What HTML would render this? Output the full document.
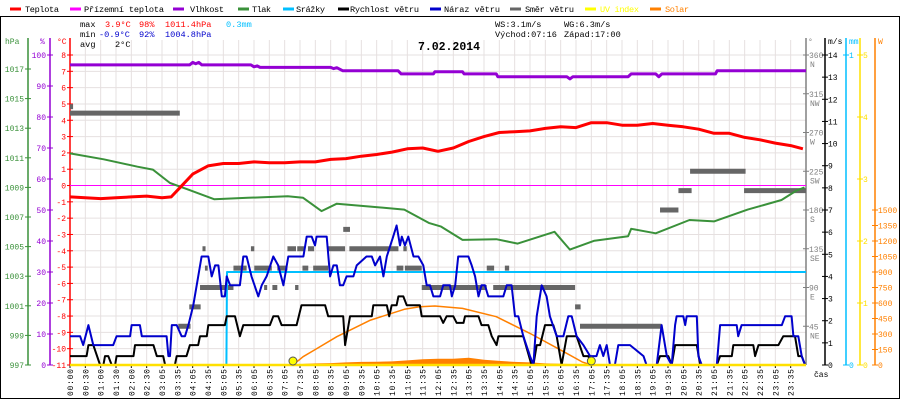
<!DOCTYPE html>
<html><head><meta charset="utf-8"><style>
html,body{margin:0;padding:0;background:#fff}
svg{display:block;font-family:"Liberation Mono",monospace}
</style></head><body>
<svg id="chart" width="900" height="400" viewBox="0 0 900 400" xmlns="http://www.w3.org/2000/svg">
<rect x="0.5" y="16.5" width="899" height="382" fill="#fff" stroke="#000"/>
<g id="grid"></g>
<g id="legend" font-size="8.6"></g>
<g id="stats" font-size="8.6">
<text x="80" y="27" fill="#000">max</text>
<text x="105" y="27" fill="#f00">3.9°C</text>
<text x="139" y="27" fill="#f00">98%</text>
<text x="165" y="27" fill="#f00">1011.4hPa</text>
<text x="226" y="27" fill="#00bfff">0.3mm</text>
<text x="80" y="37" fill="#000">min</text>
<text x="99" y="37" fill="#00c">-0.9°C</text>
<text x="139" y="37" fill="#00c">92%</text>
<text x="165" y="37" fill="#00c">1004.8hPa</text>
<text x="80" y="47" fill="#000">avg</text>
<text x="115" y="47" fill="#000">2°C</text>
<text x="495" y="27" fill="#000">WS:3.1m/s</text>
<text x="564" y="27" fill="#000">WG:6.3m/s</text>
<text x="495" y="37" fill="#000">Východ:07:16</text>
<text x="564" y="37" fill="#000">Západ:17:00</text>
</g>
<text x="418" y="50" font-size="11.5" font-weight="bold" textLength="62">7.02.2014</text>
<g id="axes" font-size="8"></g>
<g id="series"></g>
</svg>
<script>
// ---- data ----
const tempT=[0,0.5,1,1.5,2,2.5,3,3.3,3.6,4,4.5,5,5.5,6,6.5,7,7.5,8,8.5,9,9.5,10,10.5,11,11.5,12,12.5,13,13.5,14,14.5,15,15.5,16,16.5,17,17.5,18,18.5,19,19.5,20,20.5,21,21.5,22,22.5,23,23.5,23.9];
const tempV=[-0.7,-0.75,-0.8,-0.75,-0.7,-0.65,-0.75,-0.7,-0.1,0.7,1.2,1.35,1.35,1.45,1.4,1.4,1.45,1.45,1.6,1.65,1.8,1.9,2.05,2.25,2.3,2.1,2.3,2.7,3.0,3.25,3.3,3.35,3.5,3.6,3.55,3.85,3.85,3.7,3.7,3.8,3.7,3.6,3.45,3.2,3.2,2.95,2.8,2.6,2.45,2.25];
const feelT=[0,24];
const feelV=[0,0];
const presT=[0,1.1,2.2,2.7,3.26,3.8,4.7,5.8,7.1,7.6,8.2,8.7,9.8,10.9,11.7,12.1,12.8,13.9,14.6,15.8,16.3,17.1,18.2,18.3,19.1,20.2,21,22.1,23.2,23.7,23.95];
const presV=[1011.3,1010.9,1010.4,1010.2,1009.3,1008.9,1008.2,1008.3,1008.4,1008.3,1007.4,1007.9,1007.7,1007.5,1006.6,1006.35,1005.45,1005.5,1005.2,1006.0,1004.8,1005.4,1005.7,1006.2,1005.9,1006.8,1006.7,1007.5,1008.15,1008.8,1009.0];
const humT=[0,3.9,4.0,4.1,4.2,4.3,4.5,5.9,6.0,6.1,6.2,8.5,8.6,8.7,8.9,10.7,10.8,11.85,11.9,12.8,12.85,13.9,13.95,16.2,16.3,16.4,18.2,18.3,19.1,19.2,19.3,21.05,21.1,24];
const humV=[96.8,96.8,97.6,97.2,97.6,96.8,96.8,96.8,96.2,96.5,96.0,96.0,95.6,95.9,94.9,94.9,93.9,93.9,94.6,94.6,93.9,93.9,93.0,93.0,92.3,93.0,93.0,93.9,93.9,93.0,93.9,93.9,94.9,94.9];
const rainT=[0,5.1,5.12,24];
const rainV=[0,0,0.3,0.3];
const windT=[0,0.54,0.6,0.76,0.98,1.09,1.14,1.25,1.36,1.47,1.52,2.07,2.12,2.72,2.83,3.04,3.1,3.42,3.48,3.8,3.91,4.18,4.24,4.46,4.51,5.05,5.11,5.38,5.54,5.65,6.52,6.63,6.79,6.9,7.39,7.55,8.32,8.42,8.91,8.97,9.13,9.84,9.89,10.33,10.41,10.49,10.65,10.71,10.87,10.98,11.41,11.47,12.07,12.17,12.28,12.5,12.61,12.83,12.88,13.32,13.42,13.64,13.75,13.91,13.97,14.78,15.05,15.11,15.22,15.33,15.49,15.76,15.87,16.03,16.2,16.52,16.74,16.9,17.01,19.13,19.24,19.51,19.62,19.73,20.44,20.55,21.09,21.2,21.58,21.63,22.28,22.34,22.45,23.1,23.26,23.64,23.75,23.86,23.97];
const windV=[0.4,0.4,0.9,0.9,0,0,0.4,0.4,0,0,0.4,0.4,0.9,0.9,0.4,0.4,0,0,0.4,0.4,0.9,0.9,1.3,1.3,1.8,1.8,2.2,2.2,1.3,1.8,1.8,2.2,2.2,1.8,1.8,2.7,2.7,2.2,2.2,0.9,2.2,2.2,2.7,2.7,2.2,2.7,2.7,3.1,3.1,2.7,2.7,2.2,2.2,1.9,2.2,2.2,1.9,1.9,2.2,2.2,1.8,1.8,1.3,0.9,1.3,1.3,0,0,0.9,0.9,1.8,1.8,1.3,0,1.3,1.3,0.4,0.4,0,0,0.4,0.4,0,0.9,0.9,0,0,0.4,0.4,0.9,0.9,0.4,0.9,0.9,1.3,1.3,0.4,0.4,0];
const gustT=[0,0.33,0.43,0.6,0.76,1.41,1.52,1.96,2.01,2.28,2.34,3.15,3.21,3.26,3.32,3.48,3.64,3.75,3.86,4.02,4.13,4.29,4.51,4.62,4.73,4.84,4.95,5.05,5.11,5.22,5.54,5.65,5.76,5.92,6.14,6.25,6.41,6.63,6.79,6.96,7.12,7.61,7.72,7.88,7.99,8.04,8.37,8.48,8.59,8.7,8.8,8.91,9.02,9.24,9.35,9.67,9.84,9.95,10.11,10.22,10.33,10.54,10.65,10.76,10.82,10.92,11.03,11.2,11.36,11.52,11.63,11.74,11.85,12.07,12.17,12.39,12.45,12.56,12.66,12.99,13.1,13.21,13.32,13.42,13.53,13.64,14.13,14.24,14.4,14.51,14.62,14.78,15.0,15.11,15.22,15.38,15.54,15.65,15.87,16.09,16.25,16.36,16.52,16.74,16.96,17.17,17.28,17.39,17.5,17.61,17.77,17.88,18.26,18.7,18.8,19.13,19.29,19.46,19.62,19.73,19.78,20.0,20.06,20.11,20.44,20.49,20.6,21.09,21.2,21.74,21.79,21.9,23.21,23.32,23.53,23.59,23.75,23.86,23.97];
const gustV=[1.3,1.3,0.9,1.8,0.9,0.9,1.3,1.3,1.8,1.8,1.3,1.3,0.4,0.4,1.8,1.8,1.3,1.3,1.8,2.7,3.6,4.9,4.9,4.0,4.5,4.5,3.1,3.1,4.0,3.6,3.6,4.9,4.9,4.0,3.1,3.6,4.0,4.9,4.5,3.6,4.9,4.9,5.8,5.8,5.4,5.8,5.8,4.0,4.5,4.5,3.6,3.6,4.0,4.0,4.5,4.9,4.9,4.5,4.9,4.0,4.9,5.8,6.3,5.4,5.8,5.4,5.8,4.9,4.9,4.5,3.6,3.6,3.1,3.1,3.6,3.6,3.1,3.6,4.9,4.9,4.5,4.0,3.1,3.6,3.6,3.1,3.1,3.6,3.6,2.2,2.2,1.3,0.4,0,2.2,3.6,3.1,2.2,1.3,1.3,2.2,2.2,1.3,0.9,0.4,0.4,0.9,0.4,0.9,0,0,0.9,0.9,0.4,0,0,1.8,0.4,0,1.8,2.2,2.2,1.8,2.2,2.2,0.4,0,0,1.8,1.8,1.3,1.8,1.8,2.2,2.2,1.3,1.3,0.4,0];
const dirStart=[0,0,3.53,3.89,4.24,4.32,4.4,5.33,5.9,6.01,6.33,6.6,6.76,7.09,7.34,7.41,7.58,7.76,7.93,8.42,8.91,9.11,10.65,10.87,10.92,11.47,11.74,13.59,13.8,14.18,16.47,16.63,19.24,19.84,20.22,21.98];
const dirEnd=[3.58,0.1,3.93,4.26,5.33,4.42,4.49,5.76,6.01,6.58,6.43,6.76,7.09,7.37,7.45,7.63,7.77,7.96,8.42,8.97,9.13,10.71,10.87,10.98,11.47,12.07,13.59,13.83,16.47,14.32,16.65,19.29,19.84,20.27,22.03,24.0];
const dirDeg=[292.5,300,45,67.5,90,135,112.5,112.5,135,112.5,90,90,112.5,135,90,135,112.5,135,112.5,135,157.5,135,112.5,135,112.5,90,90,112.5,90,112.5,67.5,45,180,202.5,225,202.5];
const solMaxT=[7.27,7.6,8,8.7,9.8,10.9,11.4,11.9,12.8,13.9,15,16.1,16.7,17];
const solMaxV=[0,80,150,274,435,539,564,571,548,467,306,129,30,0];
const solT=[7.3,7.7,8,8.5,9,9.5,10,10.5,11,11.5,12,12.5,13,13.5,14,14.5,15,15.5,16,16.5,16.9];
const solV=[5,12,15,18,25,30,32,35,45,55,60,60,70,50,40,30,25,15,12,8,3];
const uvT=[0,24];
const uvV=[0,0];
const sunEvents=[7.27,17.0];
const timeLabels=["00:00","00:30","01:00","01:30","02:00","02:30","03:05","03:35","04:05","04:35","05:05","05:35","06:05","06:35","07:05","07:35","08:05","08:35","09:05","09:35","10:05","10:35","11:05","11:35","12:05","12:35","13:05","13:35","14:05","14:35","15:05","15:35","16:05","16:35","17:05","17:35","18:05","18:35","19:05","19:35","20:05","20:35","21:05","21:35","22:05","22:35","23:05","23:35"];
const hpaTicks=[1017,1015,1013,1011,1009,1007,1005,1003,1001,999,997];
const humTicks=[100,90,80,70,60,50,40,30,20,10,0];
const tempTicks=[8,7,6,5,4,3,2,1,0,-1,-2,-3,-4,-5,-6,-7,-8,-9,-10,-11];
const dirTicks=[360,315,270,225,180,135,90,45];
const dirNames=["N","NW","W","SW","S","SE","E","NE"];
const msTicks=[14,13,12,11,10,9,8,7,6,5,4,3,2,1,0];
const mmTicks=[1,0];
const uvTicks=[5,4,3,2,1,0];
const wTicks=[1500,1350,1200,1050,900,750,600,450,300,150,0];

// ---- scales ----
const X0=70,X1=806,YT=55,YB=365;
const xT=t=>X0+t*(X1-X0)/24;
const yC=c=>YT+(8-c)*(YB-YT)/19;
const yP=p=>YB-(p-997)*14.8;
const yH=h=>YB-h*(YB-YT)/100;
const yWs=v=>YB-v*(YB-YT)/14;
const yD=d=>YB-d*(YB-YT)/360;
const yMM=m=>YB-m*(YB-YT);
const yUV=u=>YB-u*(YB-YT)/5;
const ySol=w=>YB-w*155/1500;

const NS="http://www.w3.org/2000/svg";
function mk(tag,attrs,parent){const e=document.createElementNS(NS,tag);for(const k in attrs)e.setAttribute(k,attrs[k]);parent.appendChild(e);return e;}
const grid=document.getElementById('grid'),axes=document.getElementById('axes'),series=document.getElementById('series'),legend=document.getElementById('legend');

// grid
tempTicks.forEach(c=>{const l=mk('line',{x1:X0,x2:X1,y1:yC(c),y2:yC(c),stroke:'#e6e0e0'},grid);

});
timeLabels.forEach((s,i)=>{const x=X0+i*(X1-X0)/48;
const l=mk('line',{x1:x,x2:x,y1:40,y2:YB,stroke:'#e6e0e0'},grid);


const tk=mk('line',{x1:x,x2:x,y1:YB,y2:YB+3,stroke:'#000'},axes);


const tx=mk('text',{x:0,y:0,transform:`translate(${x+3},396) rotate(-90)`,'font-size':'8',fill:'#000',textLength:'27'},axes);
tx.textContent=s;

});

// legend
const legItems=[[10,25,34,'#f00','Teplota'],[70,84,80,'#f0f','Přízemní teplota'],[173,190,34,'#9400d3','Vlhkost'],[238,252,19,'#3a913a','Tlak'],[283,296,29,'#00bfff','Srážky'],[338,350,69,'#000','Rychlost větru'],[430,444,56,'#00c','Náraz větru'],[510,525,49,'#666','Směr větru'],[585,600,39,'#ff0','UV index'],[650,665,24,'#ff8000','Solar']];
legItems.forEach(it=>{const g=mk('g',{},legend);


mk('line',{x1:it[0],x2:it[0]+11,y1:9,y2:9,stroke:it[3],'stroke-width':3},g);
const t=mk('text',{x:it[1],y:12,fill:(it[3]=='#ff0'||it[3]=='#ff8000')?it[3]:'#000',textLength:it[2]},g);t.textContent=it[4];});

// axes
function axis(x,color,ticks,yf,name,labelSide,fmt){
 const a=mk('line',{x1:x,x2:x,y1:38,y2:YB,stroke:color,'stroke-width':1.5},axes);
 
 
 ticks.forEach((v,i)=>{const y=yf(v);
  mk('line',{x1:x-3,x2:x+3,y1:y,y2:y,stroke:color},axes);
  const t=mk('text',{x:labelSide<0?x-4:x+3,y:y+3,fill:color,'text-anchor':labelSide<0?'end':'start'},axes);
  t.textContent=fmt?fmt(v,i):v;
  
  });
}
axis(28,'#3a913a',hpaTicks,yP,'pressure',-1);
axis(50,'#9400d3',humTicks,yH,'humidity',-1);
axis(70,'#f00',tempTicks,yC,'temperature',-1);
axis(806,'#808080',dirTicks,yD,'direction',1);
dirTicks.forEach((d,i)=>{const t=mk('text',{x:810,y:yD(d)+12,fill:'#808080'},axes);t.textContent=dirNames[i];

});
axis(825,'#000',msTicks,yWs,'wind-speed',1);
axis(846,'#00bfff',mmTicks,yMM,'rain',1);
axis(860,'#ffe000',uvTicks,yUV,'uv',1);
axis(875,'#ff8000',wTicks,ySol,'solar',1);
[[5,44,'hPa','#3a913a'],[40,44,'%','#9400d3'],[57,44,'°C','#f00'],[808,44,'°','#808080'],[828,44,'m/s','#000'],[849,44,'mm','#00bfff'],[878,44,'W','#ff8000'],[814,377,'čas','#000']].forEach(h=>{
 const t=mk('text',{x:h[0],y:h[1],fill:h[3]},axes);t.textContent=h[2];
 
 });

// series
function line(T,V,yf,color,w,name){
 const pts=T.map((t,i)=>xT(t).toFixed(1)+','+yf(V[i]).toFixed(1)).join(' ');
 const p=mk('polyline',{points:pts,fill:'none',stroke:color,'stroke-width':w,'stroke-linejoin':'round'},series);
 
 
}
// solar actual area
{const pts=[xT(solT[0])+','+YB].concat(solT.map((t,i)=>xT(t).toFixed(1)+','+ySol(solV[i]).toFixed(1))).concat([xT(solT[solT.length-1])+','+YB]).join(' ');
 const p=mk('polygon',{points:pts,fill:'#ff8000'},series);
 
 }
// wind direction bars
dirDeg.forEach((d,i)=>{const r=mk('rect',{x:xT(dirStart[i]),y:yD(d)-2.5,width:xT(dirEnd[i])-xT(dirStart[i]),height:5,fill:'#666'},series);
 
 });
line(feelT,feelV,yC,'#f0f',1,'feels-like-line');
line(presT,presV,yP,'#3a913a',2,'pressure-line');
line(humT,humV,yH,'#9400d3',3,'humidity-line');
line(tempT,tempV,yC,'#f00',3,'temperature-line');
line(rainT,rainV,yMM,'#00bfff',2,'rain-line');
line(solMaxT,solMaxV,ySol,'#ff8000',1.5,'solar-max-line');
line(windT,windV,yWs,'#000',2,'wind-speed-line');
line(gustT,gustV,yWs,'#00c',2,'wind-gust-line');
line(uvT,uvV,yUV,'#ffe000',2.5,'uv-line');
sunEvents.forEach(t=>{const c=mk('circle',{cx:xT(t),cy:YB-4,r:4,fill:'#ff0',stroke:'#555','stroke-width':1},series);
 
 });
</script>
</body></html>
